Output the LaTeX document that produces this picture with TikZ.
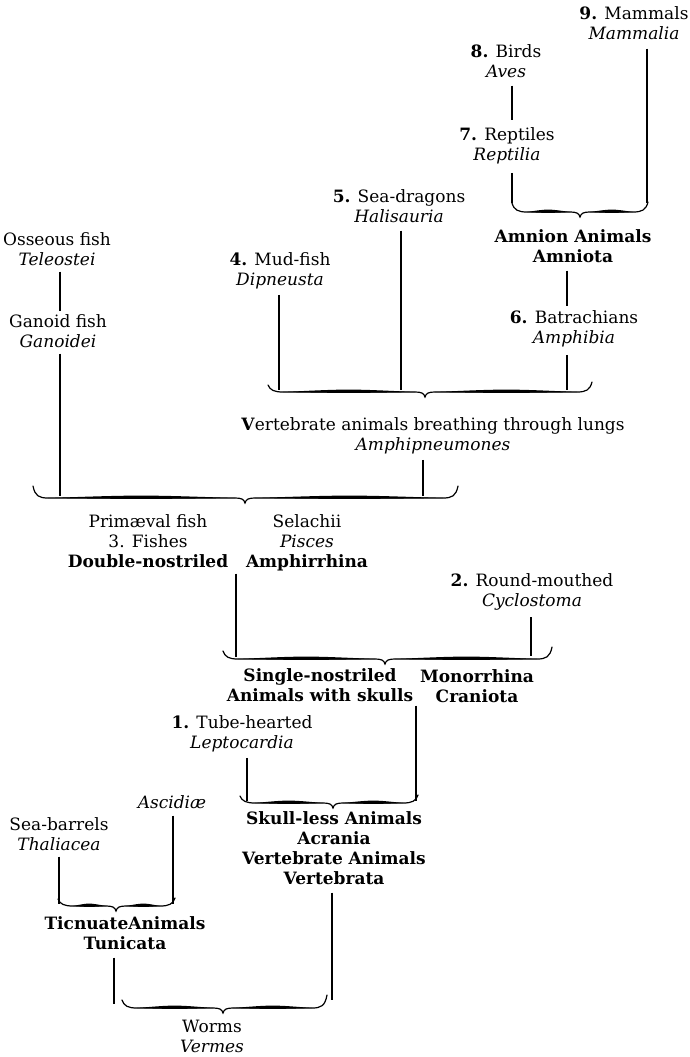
\documentclass[tikz,border=0pt]{standalone}
\usepackage{fontspec}
\setmainfont{DejaVu Serif}
\usetikzlibrary{calc}
\newcommand\blk[1]{{\bfseries #1}}
\newcommand\bigcurl[6]{%
  \draw[bracestroke] (#1,#2) .. controls (#1+2,#6-2) and (#1+6,#6) .. (#1+15,#6)
     -- (#5-10,#6) .. controls (#5-4,#6) and (#5-1,#6+1) .. (#5,#6+5)
     .. controls (#5+1,#6+1) and (#5+4,#6) .. (#5+10,#6)
     -- (#3-15,#6) .. controls (#3-6,#6) and (#3-2,#6-2) .. (#3,#4);
  \fill (#1+15,#6) .. controls ({(#1+#5)/2+2},#6-3.2) .. (#5-10,#6)
     .. controls ({(#1+#5)/2+2},#6+1.2) .. (#1+15,#6) -- cycle;
  \fill (#5+10,#6) .. controls ({(#5+#3)/2-2},#6-3.2) .. (#3-15,#6)
     .. controls ({(#5+#3)/2-2},#6+1.2) .. (#5+10,#6) -- cycle;
}
\begin{document}
\begin{tikzpicture}[x=1pt,y=-1pt,
  lab/.style={font=\fontsize{17}{20}\selectfont, align=center, inner sep=0pt, anchor=north},
  conn/.style={line width=1.1pt},
  bracestroke/.style={line width=1.2pt, line cap=round}]
\useasboundingbox (0,0) rectangle (690,1057);

% ---- nodes ----
\node[lab] (n9) at (634,6) {\textbf{9.} Mammals\\\textit{Mammalia}};
\node[lab] (n8) at (506,44) {\textbf{8.} Birds\\\textit{Aves}};
\node[lab] (n7) at (507,127) {\textbf{7.} Reptiles\\\textit{Reptilia}};
\node[lab] (n5) at (399,189) {\textbf{5.} Sea-dragons\\\textit{Halisauria}};
\node[lab] (n4) at (280,252) {\textbf{4.} Mud-fish\\\textit{Dipneusta}};
\node[lab] (nAm) at (573,229) {\blk{Amnion Animals}\\\textbf{Amniota}};
\node[lab] (n6) at (574,310) {\textbf{6.} Batrachians\\\textit{Amphibia}};
\node[lab] (nLung) at (433,417) {\textbf{V}ertebrate animals breathing through lungs\\\textit{Amphipneumones}};
\node[lab] (nOss) at (57,232) {Osseous fish\\\textit{Teleostei}};
\node[lab] (nGan) at (58,314) {Ganoid fish\\\textit{Ganoidei}};
\node[lab] (nPrim) at (148,514) {Primæval fish\\3. Fishes\\\blk{Double-nostriled}};
\node[lab] (nSel) at (307,514) {Selachii\\\textit{Pisces}\\\textbf{Amphirrhina}};
\node[lab] (n2) at (532,573) {\textbf{2.} Round-mouthed\\\textit{Cyclostoma}};
\node[lab] (nSingle) at (320,668) {\blk{Single-nostriled}\\\blk{Animals with skulls}};
\node[lab] (nMono) at (477,669) {\textbf{Monorrhina}\\\textbf{Craniota}};
\node[lab] (n1) at (242,715) {\textbf{1.} Tube-hearted\\\textit{Leptocardia}};
\node[lab] (nAsc) at (172,795) {\textit{Ascidiæ}};
\node[lab] (nSea) at (59,817) {Sea-barrels\\\textit{Thaliacea}};
\node[lab] (nSkull) at (334,811) {\blk{Skull-less Animals}\\\textbf{Acrania}\\\blk{Vertebrate Animals}\\\textbf{Vertebrata}};
\node[lab] (nTun) at (125,916) {\blk{TicnuateAnimals}\\\textbf{Tunicata}};
\node[lab] (nWorms) at (212,1020) {Worms\\\textit{Vermes}};

% ---- braces ----
\bigcurl{512}{203}{648}{202}{580}{212}
\bigcurl{268}{385}{592}{382}{425}{392}
\bigcurl{33}{486}{458}{486}{245}{498}
\bigcurl{223}{651}{552}{647}{385}{659}
\bigcurl{240}{796}{418}{795}{333}{803}
\bigcurl{58}{899}{175}{898}{116}{906}
\bigcurl{122}{1000}{327}{995}{223}{1008}

% ---- connector end points ----
\coordinate (e9) at (647,203);
\coordinate (e8) at (512,120);
\coordinate (e7) at (512,203);
\coordinate (e5) at (401,390);
\coordinate (e4) at (279,390);
\coordinate (eAm) at (567,306);
\coordinate (e6) at (567,390);
\coordinate (eL) at (423,496);
\coordinate (eO) at (60,311);
\coordinate (eG) at (60,496);
\coordinate (eF) at (236,657);
\coordinate (e2) at (531,656);
\coordinate (eS) at (416,801);
\coordinate (e1) at (247,801);
\coordinate (eA) at (173,904);
\coordinate (eB) at (59,904);
\coordinate (eT) at (114,1004);
\coordinate (eV) at (332,1000);

% ---- connectors ----
\draw[conn] (e9 |- n9.south) ++(0,9) -- (e9);
\draw[conn] (e8 |- n8.south) ++(0,8) -- (e8);
\draw[conn] (e7 |- n7.south) ++(0,9) -- (e7);
\draw[conn] (e5 |- n5.south) ++(0,8) -- (e5);
\draw[conn] (e4 |- n4.south) ++(0,6) -- (e4);
\draw[conn] (eAm |- nAm.south) ++(0,8) -- (eAm);
\draw[conn] (e6 |- n6.south) ++(0,8) -- (e6);
\draw[conn] (eL |- nLung.south) ++(0,6) -- (eL);
\draw[conn] (eO |- nOss.south) ++(0,6) -- (eO);
\draw[conn] (eG |- nGan.south) ++(0,6) -- (eG);
\draw[conn] (eF |- nPrim.south) ++(0,6) -- (eF);
\draw[conn] (e2 |- n2.south) ++(0,7) -- (e2);
\draw[conn] (eS |- nSingle.south) ++(0,4) -- (eS);
\draw[conn] (e1 |- n1.south) ++(0,6) -- (e1);
\draw[conn] (eA |- nAsc.south) ++(0,7) -- (eA);
\draw[conn] (eB |- nSea.south) ++(0,6) -- (eB);
\draw[conn] (eT |- nTun.south) ++(0,8) -- (eT);
\draw[conn] (eV |- nSkull.south) ++(0,8) -- (eV);
\end{tikzpicture}
\end{document}
